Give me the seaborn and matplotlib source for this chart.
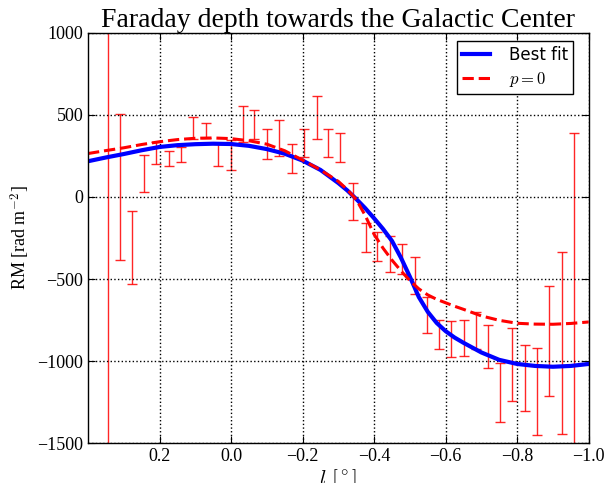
import matplotlib
matplotlib.use("Agg")
import matplotlib.pyplot as plt
import seaborn as sns
import pandas as pd

# Observed data (error bars)
lon = [0.345, 0.311, 0.278, 0.243, 0.209, 0.174, 0.140, 0.106, 0.071, 0.036,
       0.001, -0.033, -0.065, -0.101, -0.135, -0.170, -0.203, -0.239, -0.271, -0.306,
       -0.341, -0.376, -0.409, -0.444, -0.478, -0.514, -0.548, -0.582, -0.615, -0.650,
       -0.684, -0.719, -0.753, -0.787, -0.821, -0.856, -0.890, -0.925, -0.958]
rm = [-250, 60, -307, 142, 268, 234, 258, 423, 405, 255,
      256, 446, 443, 323, 361, 234, 329, 486, 329, 303,
      -28, -248, -303, -347, -377, -478, -719, -837, -868, -859,
      -812, -912, -1194, -1022, -1102, -1186, -877, -888, -560]
rm_err = [1800, 446, 223, 112, 66, 45, 46, 67, 48, 68,
          92, 109, 87, 90, 111, 89, 87, 132, 87, 89,
          112, 88, 88, 112, 90, 111, 111, 87, 110, 111,
          113, 133, 180, 222, 201, 267, 336, 555, 952]

# Model curves
curve_l = [0.4, 0.35, 0.3, 0.25, 0.2, 0.15, 0.1, 0.05, 0.0, -0.05, -0.1, -0.15, -0.2,
           -0.25, -0.3, -0.325, -0.35, -0.375, -0.4, -0.425, -0.45, -0.475, -0.5,
           -0.525, -0.55, -0.575, -0.6, -0.625, -0.65, -0.7, -0.75,
           -0.8, -0.85, -0.9, -0.95, -1.0]
best_fit = [218, 241, 262, 285, 305, 316, 322, 325, 323, 312, 292, 264, 222,
            165, 85, 40, -12, -68, -130, -195, -268, -370, -486,
            -610, -700, -768, -818, -857, -889, -948, -993,
            -1018, -1030, -1035, -1030, -1018]
p_zero = [265, 283, 300, 320, 337, 350, 358, 360, 356, 343, 322, 282, 225,
          165, 95, 45, -15, -112, -228, -312, -385, -450, -510,
          -560, -597, -624, -645, -666, -685, -725, -752,
          -770, -775, -776, -771, -762]

plt.rcParams['font.family'] = ['Liberation Serif', 'DejaVu Serif']
plt.rcParams['mathtext.fontset'] = 'cm'

fig = plt.figure(figsize=(6.05, 4.83), dpi=100)
ax = fig.add_axes([0.1455, 0.0828, 0.8275, 0.8489])

df = pd.DataFrame({"l": curve_l, "Best fit": best_fit, "p0": p_zero})
sns.lineplot(data=df, x="l", y="Best fit", ax=ax, color="blue", lw=3, label="Best fit",
             sort=False)
sns.lineplot(data=df, x="l", y="p0", ax=ax, color="red", lw=2.2, ls="--",
             label="$p=0$", sort=False)
ax.errorbar(lon, rm, yerr=rm_err, fmt="none", ecolor="red", elinewidth=1.0,
            capsize=3.5, capthick=1.0, alpha=0.85, zorder=1)

ax.set_xlim(0.4, -1.0)
ax.set_ylim(-1500, 1000)
ax.set_xticks([0.2, 0.0, -0.2, -0.4, -0.6, -0.8, -1.0])
ax.set_yticks([-1500, -1000, -500, 0, 500, 1000])
ax.grid(True, linestyle=":", color="black", linewidth=1.0)
ax.tick_params(direction="in", top=True, right=True, labelsize=13, length=5)
for s in ax.spines.values():
    s.set_linewidth(1.0)
    s.set_color("black")

ax.set_title("Faraday depth towards the Galactic Center", fontsize=20, pad=4)
ax.set_xlabel(r"$l\ [^\circ]$", fontsize=15, labelpad=2)
ax.set_ylabel(r"RM [rad m$^{-2}$]", fontsize=13, labelpad=4)

leg = ax.legend(loc="upper right", bbox_to_anchor=(0.9684, 0.9805), borderaxespad=0,
                frameon=True, fancybox=False, framealpha=1, edgecolor="black",
                prop={'family': 'DejaVu Sans', 'size': 12},
                labelspacing=0.35, borderpad=0.3, handlelength=1.7, handletextpad=1.1)
leg.get_frame().set_linewidth(1.0)

fig.savefig("out.png", dpi=100)
